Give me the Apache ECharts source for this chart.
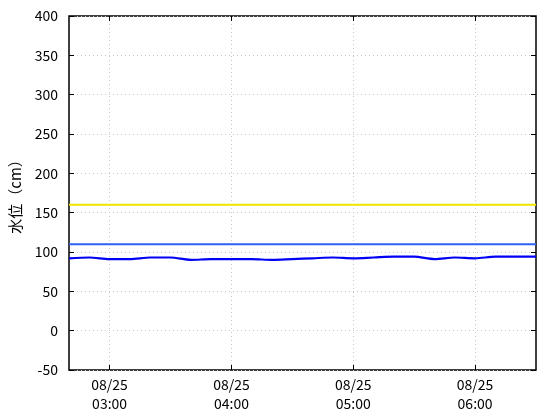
<!DOCTYPE html>
<html><head><meta charset="utf-8">
<script src="https://cdn.jsdelivr.net/npm/echarts@6/dist/echarts.min.js"></script>
<style>html,body{margin:0;padding:0;background:#fff}#c{width:560px;height:420px}</style>
</head><body><div id="c"></div>
<script>
const times = ["02:40","02:50","03:00","03:10","03:20","03:30","03:40","03:50","04:00","04:10","04:20","04:30","04:40","04:50","05:00","05:10","05:20","05:30","05:40","05:50","06:00","06:10","06:20","06:30"];
const dateLabel = "08/25";
const waterLevel = [92,93,91,91,93,93,90,91,91,91,90,91,92,93,92,93,94,94,91,93,92,94,94,94];
const levelYellow = 160;
const levelBlue = 110;
const yTicks = {min:-50, max:400, interval:50};

const showIdx = i => (i - 2) % 6 === 0 && i >= 2;
const font = '"Noto Sans CJK JP", "DejaVu Sans", sans-serif';
const chart = echarts.init(document.getElementById('c'));
chart.setOption({
  animation:false,
  grid:{left:69,right:24,top:16,bottom:50,show:true,borderColor:'#000',borderWidth:1.5,backgroundColor:'#fff'},
  xAxis:[{
    type:'category', data:times, boundaryGap:false,
    axisLine:{show:false,onZero:false},
    axisTick:{show:true,inside:true,length:5,interval:(i)=>showIdx(i),lineStyle:{color:'#000',width:1}},
    axisLabel:{interval:(i)=>showIdx(i),formatter:v=>dateLabel+'\n'+v,color:'#000',fontFamily:font,fontSize:14,lineHeight:19,margin:5},
    splitLine:{show:true,interval:(i)=>showIdx(i),lineStyle:{color:'#c8c8c8',type:[1,3],width:1}}
  },{
    type:'category', data:times, boundaryGap:false, position:'top',
    axisLine:{show:false,onZero:false},
    axisTick:{show:true,inside:true,length:5,interval:(i)=>showIdx(i),lineStyle:{color:'#000',width:1}},
    axisLabel:{show:false}, splitLine:{show:false}
  }],
  yAxis:[{
    type:'value', min:yTicks.min, max:yTicks.max, interval:yTicks.interval,
    name:'水位（cm）', nameLocation:'middle', nameGap:46, nameRotate:90,
    nameTextStyle:{color:'#000',fontFamily:font,fontSize:15},
    axisLine:{show:false,onZero:false},
    axisTick:{show:true,inside:true,length:5,lineStyle:{color:'#000'}},
    axisLabel:{color:'#000',fontFamily:font,fontSize:14,margin:11},
    splitLine:{show:true,lineStyle:{color:'#c8c8c8',type:[1,3],width:1}}
  },{
    type:'value', min:yTicks.min, max:yTicks.max, interval:yTicks.interval, position:'right',
    axisLine:{show:false,onZero:false},
    axisTick:{show:true,inside:true,length:5,lineStyle:{color:'#000'}},
    axisLabel:{show:false}, splitLine:{show:false}
  }],
  series:[
    {type:'line',data:times.map(()=>levelYellow),symbol:'none',lineStyle:{color:'#f0e400',width:2},z:2},
    {type:'line',data:times.map(()=>levelBlue),symbol:'none',lineStyle:{color:'#2f62f5',width:2},z:3},
    {type:'line',data:waterLevel,symbol:'none',smooth:0.3,lineStyle:{color:'#0000f5',width:2.2},z:4}
  ]
});
</script></body></html>
